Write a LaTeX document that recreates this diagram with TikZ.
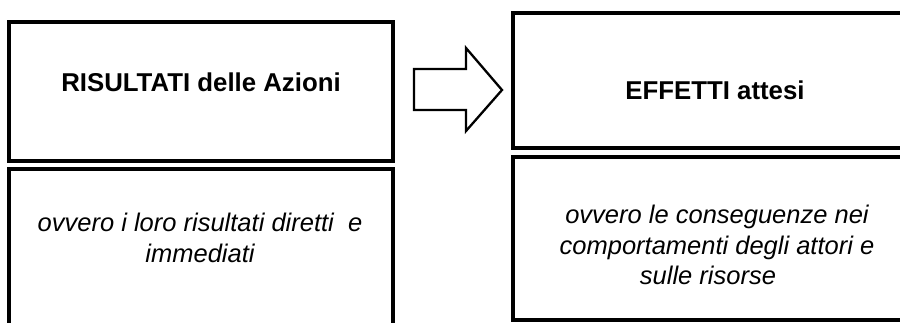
\documentclass[tikz,border=0pt]{standalone}
\usepackage{fontspec}
\setmainfont{Liberation Sans}
\begin{document}
\begin{tikzpicture}[x=1pt,y=-1pt,
  box/.style={draw=black, line width=3.2pt, rectangle, inner sep=0pt},
  title/.style={font=\fontsize{25.8}{30}\selectfont\bfseries, inner sep=0pt, anchor=center},
  body/.style={font=\fontsize{25.5}{30.5}\selectfont\itshape, align=center, inner sep=0pt, anchor=center},
  bigarrow/.style={draw=black, line width=2.3pt, line join=miter, fill=white}]
\useasboundingbox (0,0) rectangle (900,323);
\clip (0,0) rectangle (900,323);

% left column
\node[box, minimum width=384pt, minimum height=139pt] (resbox) at (201,91.5) {};
\node[box, minimum width=384pt, minimum height=166pt] (resdesc) at (201,252) {};
\node[title] (restitle) at (201,82) {RISULTATI delle Azioni};
\node[body] (restext) at (200,238) {ovvero i loro risultati diretti\ \ e\\immediati};

% right column
\node[box, minimum width=392pt, minimum height=135pt] (effbox) at (709,80.5) {};
\node[box, minimum width=392pt, minimum height=163pt] (effdesc) at (709,238.5) {};
\node[title] (efftitle) at (715,90) {EFFETTI attesi};
\node[body] (efftext) at (717,245) {ovvero le conseguenze nei\\comportamenti degli attori e\\sulle risorse\hspace*{18pt}};

% block arrow between the two columns
\draw[bigarrow] (414,69) -- (466,69) -- (466,48) -- (502,90) -- (466,131) -- (466,110) -- (414,110) -- cycle;
\end{tikzpicture}
\end{document}
